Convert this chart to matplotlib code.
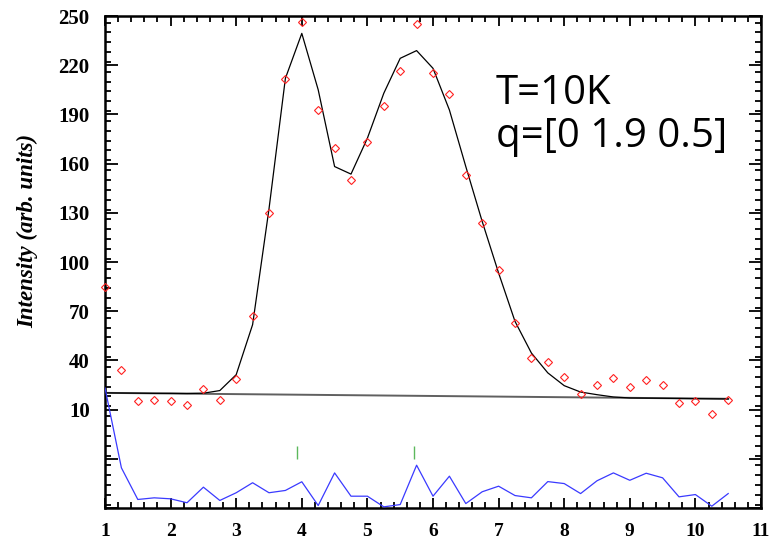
import numpy as np
import matplotlib
matplotlib.use("Agg")
import matplotlib.pyplot as plt
from matplotlib.ticker import MultipleLocator, FixedLocator

# scan positions
q = np.arange(1.0, 10.51, 0.25)

# measured intensity (red diamonds)
counts = [85, 34, 15, 16, 15, 12.6, 22.8, 16, 28.9, 66.8,
          130, 211.8, 246.2, 192.7, 169.8, 149.7, 173, 195.2, 216.3, 245.3,
          215.3, 202.7, 153.1, 123.9, 94.9, 63, 41.7, 39.1, 30.1, 19.7,
          25, 29.1, 24, 27.9, 25, 13.8, 15, 7.6, 16]

# fitted curve (black)
fit = [20.2, 20.1, 20.0, 19.9, 19.9, 19.8, 20.0, 21.6, 31.3, 61.8,
       132.4, 212, 239.4, 205, 158.2, 153.6, 175.5, 202.9, 224.2, 228.9,
       218.1, 192.7, 158.2, 124.7, 93.3, 63.8, 44.5, 32.4, 24.6, 20.7,
       19.1, 17.7, 17.1, 17.0, 16.9, 16.8, 16.7, 16.6, 16.5]

# background line
bg_x = [1.0, 10.5]
bg_y = [20.2, 16.6]

# residuals, drawn with offset (blue)
resid = [23.2, -25.5, -44.8, -43.8, -44.4, -46.8, -37.3, -45.4, -40.7, -34.6,
         -40.7, -39.3, -34, -48.5, -28.6, -42.8, -42.8, -49.3, -47.9, -23.9,
         -42.8, -30.6, -47.3, -40.1, -36.7, -42.4, -43.8, -33.9, -35.1, -41.2,
         -33.4, -28.6, -33.1, -28.8, -31.6, -43.2, -41.8, -48.9, -41.2]

# peak positions (green ticks)
peaks = [3.92, 5.71]

fig = plt.figure(figsize=(7.72, 5.44), dpi=100)
ax = fig.add_axes([105 / 772, 1 - 508 / 544, 656 / 772, 492 / 544])

ax.plot(bg_x, bg_y, color="#606060", lw=1.4, zorder=2)
ax.plot(q, fit, color="black", lw=0.9, zorder=3)
ax.plot(q, resid, color="#3a3aff", lw=0.9, zorder=3)
ax.plot(q, counts, linestyle="none", marker="D", ms=4.5, mfc="none",
        mec="#ff2020", mew=0.8, zorder=4, clip_on=False)
ax.vlines(peaks, -20, -12, color="#5cb85c", lw=1.0)

ax.set_xlim(1, 11)
ax.set_ylim(-50, 250)
ax.xaxis.set_major_locator(MultipleLocator(1))
ax.xaxis.set_minor_locator(MultipleLocator(0.2))
ax.yaxis.set_major_locator(FixedLocator(np.arange(-50, 251, 30)))
ax.yaxis.set_minor_locator(MultipleLocator(6))
ax.set_yticklabels([str(v) if v >= 10 else "" for v in range(-50, 251, 30)])

for s in ax.spines.values():
    s.set_linewidth(1.8)
ax.tick_params(which="both", direction="in", top=True, right=True, width=1.3)
ax.tick_params(which="major", length=7)
ax.tick_params(which="minor", length=4.5)
ax.tick_params(axis="y", which="major", length=9, pad=11)
ax.tick_params(axis="x", pad=11)

for lab in ax.get_xticklabels():
    lab.set_fontfamily("Liberation Serif")
    lab.set_fontweight("bold")
    lab.set_fontsize(14)
for lab in ax.get_yticklabels():
    lab.set_fontfamily("Liberation Serif")
    lab.set_fontweight("bold")
    lab.set_fontsize(15)

ax.set_ylabel("Intensity (arb. units)", fontfamily="Liberation Serif",
              fontweight="bold", fontstyle="italic", fontsize=16.5)
ax.yaxis.set_label_coords(-0.102, 0.563)

ax.text(496, 544 - 147, "T=10K\nq=[0 1.9 0.5]", transform=None,
        fontfamily="Open Sans", fontsize=29, ha="left", va="baseline",
        linespacing=1.08)

fig.savefig("out.png", dpi=100)
